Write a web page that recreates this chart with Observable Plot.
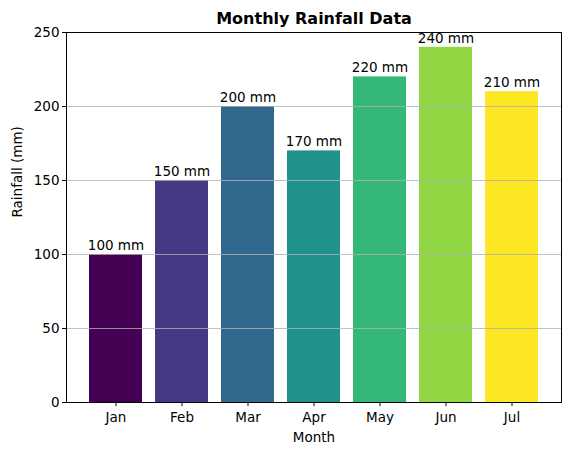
<!DOCTYPE html>
<html>
<head>
<meta charset="utf-8">
<script src="https://cdn.jsdelivr.net/npm/d3@7"></script>
<script src="https://cdn.jsdelivr.net/npm/@observablehq/plot@0.6"></script>
<style>
  body { margin: 0; background: white; }
  svg { font-family: "DejaVu Sans", sans-serif; }
</style>
</head>
<body>
<div id="chart"></div>
<script>
const months = ["Jan", "Feb", "Mar", "Apr", "May", "Jun", "Jul"];
const rainfall = [100, 150, 200, 170, 220, 240, 210];
const barColors = ["#440154", "#443983", "#31688e", "#21918c", "#35b779", "#90d743", "#fde725"];
const yTicks = [0, 50, 100, 150, 200, 250];

const data = months.map((m, i) => ({month: m, value: rainfall[i], color: barColors[i]}));

const chart = Plot.plot({
  width: 571,
  height: 455,
  marginLeft: 66,
  marginRight: 10,
  marginTop: 32,
  marginBottom: 53,
  style: {fontFamily: "DejaVu Sans, sans-serif", fontSize: "13.5px", color: "black", background: "white"},
  x: {domain: months, paddingInner: 0.2, paddingOuter: 0.34, label: null},
  y: {domain: [0, 250], label: null},
  marks: [
    Plot.barY(data, {x: "month", y: "value", fill: "color"}),
    Plot.gridY(yTicks, {stroke: "#b0b0b0", strokeOpacity: 1, strokeWidth: 0.8}),
    Plot.frame({stroke: "black", strokeWidth: 1}),
    Plot.axisY(yTicks, {tickSize: 4, tickPadding: 3, fontSize: 13.5, label: null}),
    Plot.axisX({tickSize: 4, tickPadding: 6, fontSize: 13.5, label: null}),
    Plot.text(data, {x: "month", y: "value", text: d => `${d.value} mm`, textAnchor: "middle", dy: -9, fontSize: 13.5, fill: "black"}),
    Plot.text(["Monthly Rainfall Data"], {frameAnchor: "top", lineAnchor: "middle", dy: -14, fontSize: 16, fontWeight: "bold", fill: "black"}),
    Plot.text(["Month"], {frameAnchor: "bottom", lineAnchor: "middle", dy: 35, fontSize: 13.5, fill: "black"}),
    Plot.text(["Rainfall (mm)"], {frameAnchor: "left", dx: -49, rotate: -90, fontSize: 13.5, fill: "black"})
  ]
});
document.getElementById("chart").appendChild(chart);
</script>
</body>
</html>
